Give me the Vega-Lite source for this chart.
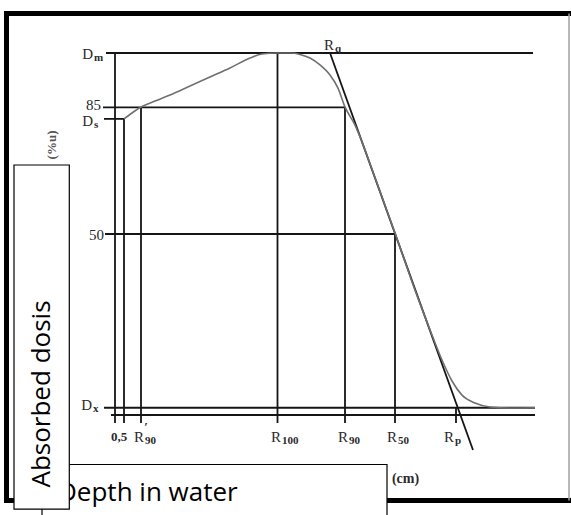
{
  "$schema": "https://vega.github.io/schema/vega-lite/v6.json",
  "width": 571,
  "height": 515,
  "autosize": "none",
  "padding": 0,
  "background": "white",
  "config": {"view": {"stroke": null}},
  "datasets": {
    "frame": [
      {"x": -1.92, "y": 110.91, "x2": 9.5, "y2": 110.91},
      {"x": -1.92, "y": -23.62, "x2": 9.5, "y2": -23.62},
      {"x": -1.87, "y": 111.6, "x2": -1.87, "y2": -24.3}
    ],
    "frameRight": [
      {"x": 9.38, "y": 110.9, "x2": 9.38, "y2": -23.6}
    ],
    "segments": [
      {"x": 0.12, "y": 100, "x2": 8.66, "y2": 100},
      {"x": 0.06, "y": 85, "x2": 4.9, "y2": 85},
      {"x": 0.08, "y": 81.8, "x2": 0.48, "y2": 81.8},
      {"x": 0.1, "y": 50, "x2": 5.9, "y2": 50},
      {"x": 0.08, "y": 2, "x2": 8.7, "y2": 2},
      {"x": 0.22, "y": 0, "x2": 8.7, "y2": 0},
      {"x": 0.3, "y": 100, "x2": 0.3, "y2": -2.2},
      {"x": 0.48, "y": 81.8, "x2": 0.48, "y2": -2.2},
      {"x": 0.82, "y": 85, "x2": 0.82, "y2": -2.2},
      {"x": 3.55, "y": 100, "x2": 3.55, "y2": -2.2},
      {"x": 4.9, "y": 85, "x2": 4.9, "y2": -2.2},
      {"x": 5.9, "y": 50, "x2": 5.9, "y2": -2.2},
      {"x": 7.12, "y": 2, "x2": 7.12, "y2": -2.2},
      {"x": 4.6, "y": 100, "x2": 7.46, "y2": -9.67}
    ],
    "curve": [
      {"x": 0.48, "y": 81.77},
      {"x": 0.64, "y": 83.43},
      {"x": 0.82, "y": 85.08},
      {"x": 1.1, "y": 86.74},
      {"x": 1.4, "y": 88.4},
      {"x": 1.8, "y": 90.88},
      {"x": 2.2, "y": 93.37},
      {"x": 2.6, "y": 95.86},
      {"x": 3.0, "y": 98.62},
      {"x": 3.24, "y": 99.72},
      {"x": 3.54, "y": 100},
      {"x": 3.82, "y": 100},
      {"x": 4.0, "y": 99.6},
      {"x": 4.2, "y": 98.6},
      {"x": 4.4, "y": 96.7},
      {"x": 4.6, "y": 93.9},
      {"x": 4.76, "y": 90.3},
      {"x": 4.9, "y": 85.1},
      {"x": 5.1, "y": 80.1},
      {"x": 5.51, "y": 65.2},
      {"x": 5.9, "y": 50.3},
      {"x": 6.3, "y": 34.5},
      {"x": 6.64, "y": 22.1},
      {"x": 6.84, "y": 15.2},
      {"x": 7.04, "y": 9.4},
      {"x": 7.24, "y": 5.5},
      {"x": 7.5, "y": 3.3},
      {"x": 7.8, "y": 2.2},
      {"x": 8.2, "y": 1.93},
      {"x": 8.7, "y": 2.0}
    ],
    "symbols": [
      {"x": -0.14, "y": 99.7, "base": "D", "sub": "m"},
      {"x": -0.14, "y": 81.2, "base": "D", "sub": "s"},
      {"x": -0.16, "y": 2.8, "base": "D", "sub": "x"},
      {"x": 0.88, "y": -6.2, "base": "R", "sub": "90"},
      {"x": 3.62, "y": -6.2, "base": "R", "sub": "100"},
      {"x": 4.96, "y": -6.2, "base": "R", "sub": "90"},
      {"x": 5.94, "y": -6.2, "base": "R", "sub": "50"},
      {"x": 7.08, "y": -6.2, "base": "R", "sub": "p"},
      {"x": 4.68, "y": 102.2, "base": "R", "sub": "q"}
    ],
    "numbers": [
      {"x": 0.02, "y": 85.6, "text": "85"},
      {"x": 0.08, "y": 49.7, "text": "50"}
    ],
    "centered": [
      {"x": 0.38, "y": -6.1, "text": "0,5"},
      {"x": 0.92, "y": -3.4, "text": "′"}
    ],
    "unit": [
      {"x": 6.11, "y": -17.54, "text": "(cm)"}
    ],
    "yunit": [
      {"x": -0.96, "y": 74.6, "text": "(%u)"}
    ],
    "depthBox": [
      {"x": -1.16, "y": -13.67, "x2": 5.74, "y2": -31.8}
    ],
    "depthText": [
      {"x": -0.84, "y": -23.76, "text": "Depth in water"}
    ],
    "doseBox": [
      {"x": -1.72, "y": 69.06, "x2": -0.614, "y2": -25.97}
    ],
    "doseText": [
      {"x": -1.01, "y": 5.8, "text": "Absorbed dosis"}
    ]
  },
  "encoding": {
    "x": {"field": "x", "type": "quantitative", "scale": {"domain": [-2, 9.42], "nice": false, "zero": false}, "axis": null},
    "y": {"field": "y", "type": "quantitative", "scale": {"domain": [-27.62, 114.64], "nice": false, "zero": false}, "axis": null}
  },
  "layer": [
    {
      "data": {"name": "frame"},
      "mark": {"type": "rule", "strokeWidth": 5, "color": "#000000"},
      "encoding": {"x2": {"field": "x2"}, "y2": {"field": "y2"}}
    },
    {
      "data": {"name": "frameRight"},
      "mark": {"type": "rule", "strokeWidth": 1.5, "color": "#a0a0a0"},
      "encoding": {"x2": {"field": "x2"}, "y2": {"field": "y2"}}
    },
    {
      "data": {"name": "segments"},
      "mark": {"type": "rule", "strokeWidth": 1.8, "color": "#151515"},
      "encoding": {"x2": {"field": "x2"}, "y2": {"field": "y2"}}
    },
    {
      "data": {"name": "curve"},
      "mark": {"type": "line", "strokeWidth": 1.6, "color": "#707070", "interpolate": "monotone"}
    },
    {
      "data": {"name": "symbols"},
      "mark": {"type": "text", "align": "right", "baseline": "middle", "font": "Liberation Serif", "fontSize": 15, "color": "#2a2a2a"},
      "encoding": {"text": {"field": "base"}}
    },
    {
      "data": {"name": "symbols"},
      "mark": {"type": "text", "align": "left", "baseline": "middle", "dx": 1, "dy": 4, "font": "Liberation Serif", "fontSize": 11, "fontWeight": "bold", "color": "#2a2a2a"},
      "encoding": {"text": {"field": "sub"}}
    },
    {
      "data": {"name": "numbers"},
      "mark": {"type": "text", "align": "right", "baseline": "middle", "font": "Liberation Serif", "fontSize": 15, "color": "#2a2a2a"},
      "encoding": {"text": {"field": "text"}}
    },
    {
      "data": {"name": "centered"},
      "mark": {"type": "text", "align": "center", "baseline": "middle", "font": "Liberation Serif", "fontSize": 13, "fontWeight": "bold", "color": "#2a2a2a"},
      "encoding": {"text": {"field": "text"}}
    },
    {
      "data": {"name": "unit"},
      "mark": {"type": "text", "align": "center", "baseline": "middle", "font": "Liberation Serif", "fontSize": 14, "fontWeight": "bold", "color": "#2a2a2a"},
      "encoding": {"text": {"field": "text"}}
    },
    {
      "data": {"name": "yunit"},
      "mark": {"type": "text", "align": "center", "baseline": "middle", "angle": 270, "font": "Liberation Serif", "fontSize": 13, "fontWeight": "bold", "color": "#555555"},
      "encoding": {"text": {"field": "text"}}
    },
    {
      "data": {"name": "depthBox"},
      "mark": {"type": "rect", "fill": "#ffffff", "stroke": "#000000", "strokeWidth": 1.2},
      "encoding": {"x2": {"field": "x2"}, "y2": {"field": "y2"}}
    },
    {
      "data": {"name": "depthText"},
      "mark": {"type": "text", "align": "left", "baseline": "alphabetic", "font": "Open Sans", "fontSize": 26, "color": "#000000"},
      "encoding": {"text": {"field": "text"}}
    },
    {
      "data": {"name": "doseBox"},
      "mark": {"type": "rect", "fill": "#ffffff", "stroke": "#000000", "strokeWidth": 1.2},
      "encoding": {"x2": {"field": "x2"}, "y2": {"field": "y2"}}
    },
    {
      "data": {"name": "doseText"},
      "mark": {"type": "text", "align": "center", "baseline": "alphabetic", "angle": 270, "font": "Open Sans", "fontSize": 26, "color": "#000000"},
      "encoding": {"text": {"field": "text"}}
    }
  ]
}
